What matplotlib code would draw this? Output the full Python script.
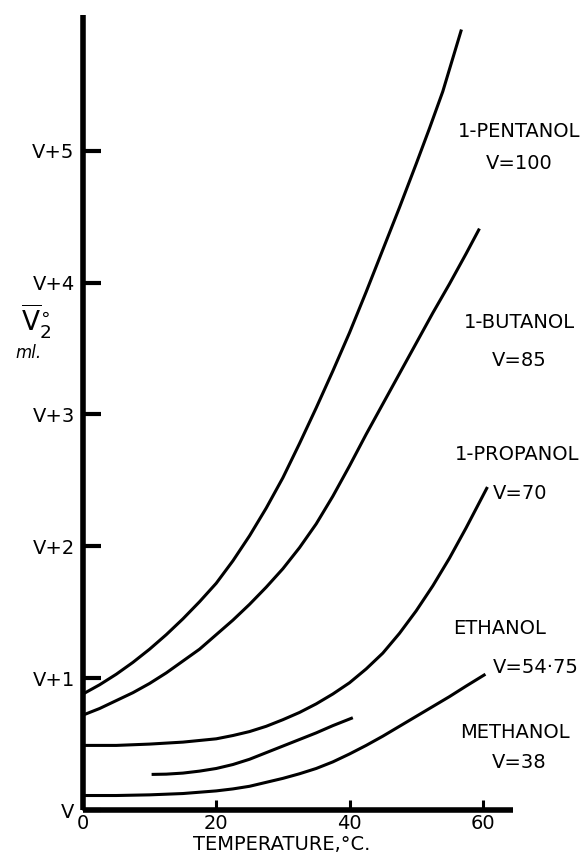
import numpy as np
from matplotlib import pyplot as plt

# curve readings (temperature in C, partial molar volume above V in ml)
pent_t = [0, 2.5, 5, 7.5, 10, 12.5, 15, 17.5, 20, 22.5, 25, 27.5, 30, 32.5, 35,
          37.5, 40, 42.5, 45, 47.5, 50, 52, 54, 56.8]
pent_v = [0.88, 0.95, 1.03, 1.12, 1.22, 1.33, 1.45, 1.58, 1.72, 1.89, 2.08, 2.29,
          2.52, 2.78, 3.05, 3.33, 3.62, 3.93, 4.25, 4.57, 4.9, 5.17, 5.45, 5.92]

but_t = [0, 2.5, 5, 7.5, 10, 12.5, 15, 17.5, 20, 22.5, 25, 27.5, 30, 32.5, 35,
         37.5, 40, 42.5, 45, 47.5, 50, 52.5, 55, 57.5, 59.5]
but_v = [0.72, 0.77, 0.83, 0.89, 0.96, 1.04, 1.13, 1.22, 1.33, 1.44, 1.56, 1.69,
         1.83, 1.99, 2.17, 2.38, 2.61, 2.85, 3.08, 3.31, 3.54, 3.77, 3.99, 4.22, 4.41]

prop_t = [0, 5, 10, 15, 20, 22.5, 25, 27.5, 30, 32.5, 35, 37.5, 40, 42.5, 45,
          47.5, 50, 52.5, 55, 57.5, 60.7]
prop_v = [0.49, 0.49, 0.50, 0.515, 0.54, 0.565, 0.595, 0.635, 0.685, 0.74, 0.805,
          0.88, 0.965, 1.07, 1.19, 1.34, 1.51, 1.70, 1.91, 2.14, 2.45]

eth_t = [10.3, 12.5, 15, 17.5, 20, 22.5, 25, 27.5, 30, 32.5, 35, 37.5, 40.5]
eth_v = [0.27, 0.272, 0.28, 0.295, 0.315, 0.345, 0.385, 0.435, 0.485, 0.535,
         0.585, 0.64, 0.70]

meth_t = [0, 5, 10, 12.5, 15, 17.5, 20, 22.5, 25, 27.5, 30, 32.5, 35, 37.5, 40,
          42.5, 45, 47.5, 50, 52.5, 55, 57.5, 60.4]
meth_v = [0.11, 0.11, 0.115, 0.12, 0.125, 0.135, 0.145, 0.16, 0.18, 0.21, 0.24,
          0.275, 0.315, 0.365, 0.425, 0.49, 0.56, 0.635, 0.71, 0.785, 0.86, 0.94, 1.03]

x_ticks = [0, 20, 40, 60]
y_ticks = [0, 1, 2, 3, 4, 5]
y_labels = ["V", "V+1", "V+2", "V+3", "V+4", "V+5"]

# curve labels: (text, x, y, alignment)
labels = [
    ("1-PENTANOL", 65.5, 5.15, "center"),
    ("V=100", 65.5, 4.90, "center"),
    ("1-BUTANOL", 65.5, 3.70, "center"),
    ("V=85", 65.5, 3.41, "center"),
    ("1-PROPANOL", 65.1, 2.70, "center"),
    ("V=70", 61.5, 2.40, "left"),
    ("ETHANOL", 62.5, 1.38, "center"),
    ("V=54·75", 61.5, 1.08, "left"),
    ("METHANOL", 64.8, 0.59, "center"),
    ("V=38", 65.5, 0.36, "center"),
]

fig = plt.figure(figsize=(5.86, 8.63), dpi=100)
ax = fig.add_axes([0.1416, 0.0614, 0.875 - 0.1416, 0.9826 - 0.0614])

for t, v in [(pent_t, pent_v), (but_t, but_v), (prop_t, prop_v),
             (eth_t, eth_v), (meth_t, meth_v)]:
    ax.plot(t, v, color="black", lw=2.2, solid_capstyle="butt",
            solid_joinstyle="round")

ax.set_xlim(0, 64.5)
ax.set_ylim(0, 6.03)

for side in ["top", "right"]:
    ax.spines[side].set_visible(False)
for side in ["left", "bottom"]:
    ax.spines[side].set_linewidth(4)
    ax.spines[side].set_capstyle("butt")

ax.set_xticks(x_ticks)
ax.set_yticks(y_ticks)
ax.set_yticklabels(y_labels)
ax.tick_params(axis="y", direction="in", length=13, width=3, labelsize=14, pad=6)
ax.tick_params(axis="x", direction="in", length=7, width=2.2, labelsize=14, pad=3)

ax.set_xlabel("TEMPERATURE,°C.", fontsize=14, labelpad=2)
ax.xaxis.set_label_coords(0.463, -0.032)

ax.text(-7.0, 3.70, r"$\overline{\mathrm{V}}_{2}^{\circ}$", fontsize=19,
        ha="center", va="center")
ax.text(-8.2, 3.47, "ml.", fontsize=12, style="italic", ha="center", va="center")

for txt, x, y, ha in labels:
    ax.text(x, y, txt, fontsize=14, ha=ha, va="center")

fig.savefig("out.png", dpi=100)
